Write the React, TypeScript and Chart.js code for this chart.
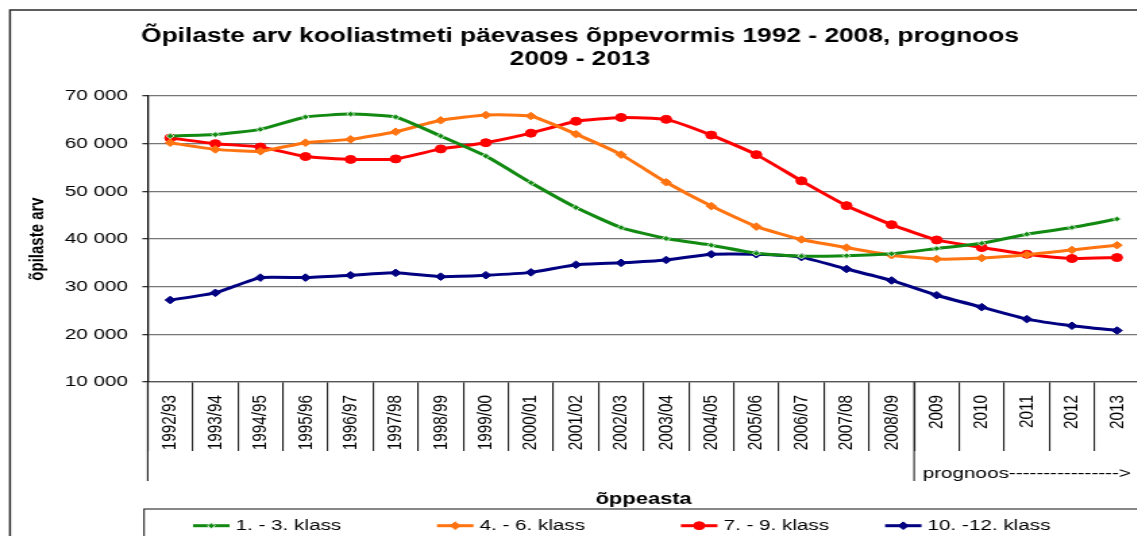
import React, { useEffect, useRef } from 'react';
import { Chart, registerables } from 'chart.js';

Chart.register(...registerables);

// ---- data ----
const categories = [
  '1992/93', '1993/94', '1994/95', '1995/96', '1996/97', '1997/98', '1998/99',
  '1999/00', '2000/01', '2001/02', '2002/03', '2003/04', '2004/05', '2005/06',
  '2006/07', '2007/08', '2008/09', '2009', '2010', '2011', '2012', '2013',
];

const klass1to3 = [
  61600, 61900, 63000, 65600, 66200, 65600, 61600, 57400, 51800, 46600, 42400,
  40100, 38700, 37000, 36400, 36500, 36900, 38000, 39100, 41000, 42400, 44200,
];
const klass4to6 = [
  60200, 58800, 58400, 60200, 60900, 62500, 64900, 66000, 65800, 62000, 57700,
  51900, 46900, 42600, 39900, 38200, 36600, 35800, 36000, 36700, 37700, 38700,
];
const klass7to9 = [
  61200, 60000, 59300, 57300, 56700, 56800, 58900, 60200, 62200, 64700, 65500,
  65100, 61800, 57700, 52200, 47000, 43000, 39800, 38200, 36800, 35900, 36100,
];
const klass10to12 = [
  27200, 28700, 31900, 31900, 32400, 32900, 32100, 32400, 33000, 34600, 35000,
  35600, 36800, 36800, 36200, 33700, 31300, 28200, 25700, 23200, 21800, 20800,
];

const seriesLabels = ['1. - 3. klass', '4. - 6. klass', '7. - 9. klass', '10. -12. klass'];
const seriesColors = ['#128a12', '#ff7410', '#ff0000', '#000080'];

const titleLines = [
  'Õpilaste arv kooliastmeti päevases õppevormis 1992 - 2008, prognoos',
  '2009 - 2013',
];
const xAxisTitle = 'õppeasta';
const yAxisTitle = 'õpilaste arv';
const forecastLabel = 'prognoos---------------->';
const forecastStartIndex = 17; // first forecast category (2009)

const Y_MIN = 10000;
const Y_MAX = 70000;
const Y_STEP = 10000;

// ---- layout (canvas units; canvas is stretched horizontally by SX) ----
const SX = 1.35;
const CW = 860;
const CH = 560;
const FONT = "'Liberation Sans', Arial, Helvetica, sans-serif";

const fmt = (v: number) => String(v).replace(/\B(?=(\d{3})+(?!\d))/g, ' ');

function drawMarker(
  ctx: CanvasRenderingContext2D,
  style: string,
  x: number,
  y: number,
  r: number,
  fill: string,
  stroke: string
) {
  ctx.save();
  ctx.fillStyle = fill;
  ctx.strokeStyle = stroke;
  ctx.lineWidth = 1;
  ctx.beginPath();
  if (style === 'circle') {
    ctx.arc(x, y, r, 0, Math.PI * 2);
  } else {
    ctx.moveTo(x, y - r);
    ctx.lineTo(x + r, y);
    ctx.lineTo(x, y + r);
    ctx.lineTo(x - r, y);
    ctx.closePath();
  }
  ctx.fill();
  ctx.stroke();
  ctx.restore();
}

const extrasPlugin = {
  id: 'extras',
  beforeDraw(chart: any) {
    const ctx = chart.ctx as CanvasRenderingContext2D;
    ctx.save();
    ctx.fillStyle = '#ffffff';
    ctx.fillRect(0, 0, chart.width, chart.height);
    ctx.strokeStyle = '#2a2a2a';
    ctx.lineWidth = 1.5;
    ctx.strokeRect(7.4, 10, 1000, 1000);
    ctx.restore();
  },
  afterDraw(chart: any) {
    const ctx = chart.ctx as CanvasRenderingContext2D;
    const area = chart.chartArea;
    const xs = chart.scales.x;

    // title
    ctx.save();
    ctx.fillStyle = '#000';
    ctx.font = `bold 19.5px ${FONT}`;
    ctx.textAlign = 'center';
    ctx.textBaseline = 'middle';
    const cx = 580 / SX;
    titleLines.forEach((t, i) => ctx.fillText(t, cx, 37 + i * 23));
    ctx.restore();

    // second level of category axis
    const boundary =
      (xs.getPixelForValue(forecastStartIndex - 1) + xs.getPixelForValue(forecastStartIndex)) / 2;
    const groupBottom = 481;
    ctx.save();
    ctx.strokeStyle = '#222';
    ctx.lineWidth = 1.1;
    [area.left, boundary, area.right].forEach((x) => {
      ctx.beginPath();
      ctx.moveTo(x, area.bottom);
      ctx.lineTo(x, groupBottom);
      ctx.stroke();
    });
    ctx.fillStyle = '#000';
    ctx.font = `15.3px ${FONT}`;
    ctx.textAlign = 'center';
    ctx.textBaseline = 'middle';
    ctx.fillText(forecastLabel, (boundary + area.right) / 2, 474);
    ctx.restore();

    // legend
    ctx.save();
    ctx.strokeStyle = '#111';
    ctx.lineWidth = 1;
    ctx.strokeRect(106.7, 509, 1000, 100);
    const starts = [143, 323.7, 504.4, 655.6];
    const ly = 525.7;
    chart.data.datasets.forEach((ds: any, i: number) => {
      const x0 = starts[i];
      const x1 = x0 + 27;
      ctx.strokeStyle = ds.borderColor;
      ctx.lineWidth = 3;
      ctx.beginPath();
      ctx.moveTo(x0, ly);
      ctx.lineTo(x1, ly);
      ctx.stroke();
      drawMarker(
        ctx,
        ds.pointStyle,
        (x0 + x1) / 2,
        ly,
        ds.pointRadius,
        ds.pointBackgroundColor,
        ds.pointBorderColor
      );
      ctx.fillStyle = '#000';
      ctx.font = `15.3px ${FONT}`;
      ctx.textAlign = 'left';
      ctx.textBaseline = 'middle';
      ctx.fillText(ds.label, x1 + 4.5, ly + 0.5);
    });
    ctx.restore();
  },
};

export default function App() {
  const canvasRef = useRef<HTMLCanvasElement | null>(null);

  useEffect(() => {
    if (!canvasRef.current) return;
    const values = [klass1to3, klass4to6, klass7to9, klass10to12];
    const styles = ['rectRot', 'rectRot', 'circle', 'rectRot'];
    const radii = [2.8, 3.8, 4, 3.8];
    const pointBorders = ['#cfeccf', seriesColors[1], seriesColors[2], seriesColors[3]];

    const chart = new Chart(canvasRef.current, {
      type: 'line',
      data: {
        labels: categories,
        datasets: values.map((v, i) => ({
          label: seriesLabels[i],
          data: v,
          borderColor: seriesColors[i],
          backgroundColor: seriesColors[i],
          borderWidth: 3,
          tension: 0.15,
          pointStyle: styles[i],
          pointRadius: radii[i],
          pointBackgroundColor: seriesColors[i],
          pointBorderColor: pointBorders[i],
          pointBorderWidth: 1,
          fill: false,
        })),
      },
      options: {
        responsive: false,
        animation: false,
        devicePixelRatio: 1,
        layout: { padding: { left: 0, right: 15.9, top: 96, bottom: 50.3 } },
        plugins: {
          legend: { display: false },
          title: { display: false },
          tooltip: { enabled: false },
        },
        scales: {
          x: {
            type: 'category',
            offset: true,
            afterFit: (scale: any) => {
              scale.height = 127.7;
            },
            grid: {
              display: true,
              offset: true,
              drawOnChartArea: false,
              drawTicks: true,
              tickLength: 69,
              color: '#222',
              lineWidth: 1.1,
            },
            border: { display: true, color: '#555', width: 1.3 },
            ticks: {
              autoSkip: false,
              minRotation: 90,
              maxRotation: 90,
              padding: -56,
              color: '#000',
              font: { family: FONT, size: 15.3 },
            },
            title: {
              display: true,
              text: xAxisTitle,
              color: '#000',
              font: { family: FONT, size: 16.2, weight: 'bold' },
              padding: { top: 0, bottom: 0 },
            },
          },
          y: {
            min: Y_MIN,
            max: Y_MAX,
            afterFit: (scale: any) => {
              scale.width = 109.4;
            },
            ticks: {
              stepSize: Y_STEP,
              padding: 10.6,
              color: '#000',
              font: { family: FONT, size: 15.3 },
              callback: (v: any) => fmt(Number(v)),
            },
            grid: {
              color: '#767676',
              lineWidth: 1.3,
              tickLength: 4,
              tickColor: '#333',
            },
            border: { display: true, color: '#111', width: 1.3 },
            title: {
              display: true,
              text: yAxisTitle,
              color: '#000',
              font: { family: FONT, size: 15, weight: 'bold' },
              padding: { top: 18.4, bottom: 0 },
            },
          },
        },
      } as any,
      plugins: [extrasPlugin],
    });
    return () => chart.destroy();
  }, []);

  return (
    <div
      style={{
        position: 'absolute',
        left: 0,
        top: 0,
        width: 1137,
        height: 536,
        overflow: 'hidden',
        background: '#fff',
      }}
    >
      <div
        style={{
          width: CW,
          height: CH,
          transform: `scaleX(${SX})`,
          transformOrigin: '0 0',
        }}
      >
        <canvas ref={canvasRef} width={CW} height={CH} style={{ display: 'block' }} />
      </div>
    </div>
  );
}
